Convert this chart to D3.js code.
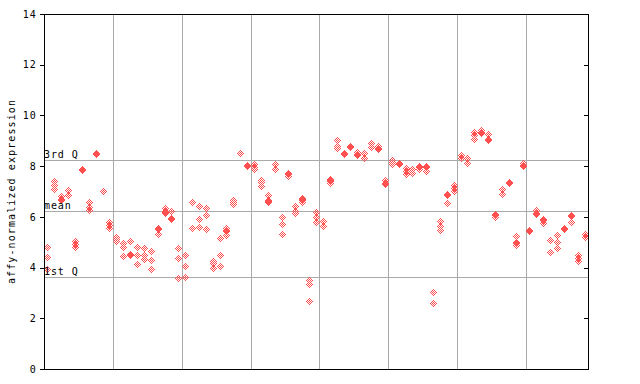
<!DOCTYPE html>
<html><head><meta charset="utf-8">
<script src="https://cdn.jsdelivr.net/npm/d3@7"></script>
<style>body{margin:0;background:#fff}svg{display:block}</style>
</head><body><svg id="c" width="640" height="384"></svg>
<script>
// Expression values per sample column (several probes / replicates per column)
const group1 = [[4.81,4.42,3.94],[7.41,7.26,7.10],[6.81,6.71,6.67],[7.06,6.86],[5.05,4.93,4.82],[7.87,7.83],[6.57,6.38,6.27],[8.51,8.47],[7.02],[5.80,5.68,5.56]];
const group2 = [[5.20,5.13,5.05],[4.97,4.81,4.44],[5.05,4.52,4.48],[4.81,4.48,4.13],[4.76,4.48,4.33],[4.64,4.28,3.94],[5.58,5.54,5.31],[6.33,6.24,6.20,6.14],[6.25,5.97,5.93],[4.76,4.36,3.58]];
const group3 = [[4.48,4.05,3.62],[6.59,5.55],[6.41,5.90,5.59],[6.33,6.08,5.51],[4.24,4.20,3.97],[5.15,4.48,4.05],[5.55,5.49,5.45,5.27],[6.65,6.57,6.49],[8.50],[8.06,8.02]];
const group4 = [[8.07,7.98,7.87],[7.46,7.37,7.20],[6.85,6.67,6.63,6.57],[8.08,7.87],[5.98,5.71,5.31],[7.73,7.69,7.62],[6.41,6.24,6.15],[6.73,6.69,6.65,6.57],[3.52,3.36,2.67],[6.20,5.98,5.81]];
const group5 = [[5.82,5.63],[7.50,7.44,7.40,7.32],[9.02,8.78,8.71],[8.52,8.48],[8.79,8.75],[8.54,8.49,8.45],[8.52,8.34],[8.90,8.74],[8.78,8.71,8.67],[7.44,7.34,7.30]];
const group6 = [[8.24,8.15,8.08],[8.13,8.09],[7.91,7.79,7.69],[7.87,7.71],[8.01,7.97,7.87],[8.01,7.97,7.79],[3.02,2.60],[5.82,5.63,5.47],[6.89,6.85,6.53],[7.26,7.12,7.02]];
const group7 = [[8.42,8.31],[8.34,8.11],[9.33,9.21,9.07],[9.41,9.35,9.31],[9.25,9.09,9.05],[6.13,6.09,6.01],[7.08,6.89],[7.37,7.33],[5.23,5.01,4.97,4.88],[8.11,8.05,8.01]];
const group8 = [[5.49,5.45],[6.29,6.14,6.10],[5.91,5.87,5.77],[5.07,4.60],[5.27,4.99,4.76],[5.58,5.54],[6.07,6.03,5.78],[4.48,4.36,4.24],[5.31,5.19]];
const groups = [group1,group2,group3,group4,group5,group6,group7,group8];
const yTicks = [0,2,4,6,8,10,12,14];
const refLines = [{label:"3rd Q", value:8.23},{label:"mean", value:6.23},{label:"1st Q", value:3.62}];
const yTitle = "affy-normalized expression";

const columns = groups.flat();
const nCols = columns.length;
const boundaries = [];
{ let acc = 0; groups.forEach((g,i)=>{ acc += g.length; if(i<groups.length-1) boundaries.push(acc-0.5); }); }

const svg = d3.select("#c");
const L=44,R=588,T=14,B=369;
const x = d3.scaleLinear().domain([-0.5, nCols-0.5]).range([L,R]);
const y = d3.scaleLinear().domain([0,14]).range([B,T]);
const font = "'DejaVu Sans Mono', monospace";
const red = "#ff4f4f";

// vertical group separators
svg.append("g").selectAll("line").data(boundaries).join("line")
  .attr("x1",d=>Math.round(x(d))+0.5).attr("x2",d=>Math.round(x(d))+0.5)
  .attr("y1",T).attr("y2",B).attr("stroke","#aaaaaa").attr("stroke-width",1);
// reference lines
svg.append("g").selectAll("line").data(refLines).join("line")
  .attr("x1",L).attr("x2",R)
  .attr("y1",d=>Math.round(y(d.value))+0.5).attr("y2",d=>Math.round(y(d.value))+0.5)
  .attr("stroke","#aaaaaa").attr("stroke-width",1);

// points: checkered diamonds drawn pixel by pixel
const offsets = [];
for(let dy=-3;dy<=3;dy++) for(let dx=-3;dx<=3;dx++)
  if(Math.abs(dx)+Math.abs(dy)<=3 && ((dx+dy)%2!==0)) offsets.push([dx,dy]);
const pts = [];
columns.forEach((vals,i)=>vals.forEach(v=>pts.push({cx:Math.round(x(i)),cy:Math.round(y(v))})));
svg.append("g").attr("shape-rendering","crispEdges").selectAll("g").data(pts).join("g")
  .attr("transform",d=>`translate(${d.cx},${d.cy})`)
  .selectAll("rect").data(offsets).join("rect")
  .attr("x",o=>o[0]).attr("y",o=>o[1]).attr("width",1).attr("height",1).attr("fill",red);

// reference labels
svg.append("g").selectAll("text").data(refLines).join("text")
  .attr("x",L).attr("y",d=>Math.round(y(d.value))-2)
  .attr("font-family",font).attr("font-size",10).attr("letter-spacing",0.9)
  .attr("fill","#000").text(d=>d.label);

// axes
const yAxisL = d3.axisLeft(y).tickValues(yTicks).tickSize(5).tickPadding(3).tickFormat(d3.format("d"));
const gl = svg.append("g").attr("transform",`translate(${L+0.5},0)`).call(yAxisL);
gl.select(".domain").remove();
gl.selectAll("line").attr("stroke","#000").attr("shape-rendering","crispEdges");
gl.selectAll("text").attr("font-family",font).attr("font-size",10).attr("letter-spacing",0.8).attr("fill","#000");
const yAxisR = d3.axisLeft(y).tickValues(yTicks).tickSize(5).tickFormat("");
const gr = svg.append("g").attr("transform",`translate(${R+0.5},0)`).call(yAxisR);
gr.select(".domain").remove();
gr.selectAll("line").attr("stroke","#000").attr("shape-rendering","crispEdges");

// frame
svg.append("rect").attr("x",L+0.5).attr("y",T+0.5).attr("width",R-L).attr("height",B-T)
  .attr("fill","none").attr("stroke","#000").attr("stroke-width",1).attr("shape-rendering","crispEdges");

// y title
svg.append("text").attr("transform",`translate(15,${(T+B)/2}) rotate(-90)`)
  .attr("text-anchor","middle").attr("font-family",font).attr("font-size",10).attr("letter-spacing",1.1)
  .attr("fill","#000").text(yTitle);
</script></body></html>
